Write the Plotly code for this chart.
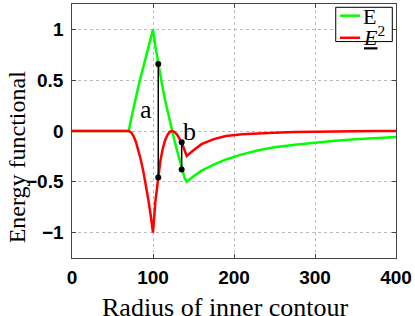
import plotly.graph_objects as go

# radius values (shared by both curves)
radius = [0, 70, 73, 76, 79, 82, 85, 88, 91, 94, 97, 100, 103, 106, 109, 112, 115,
          118, 121, 124, 127, 130, 133, 136, 139, 141.6, 150, 160, 175, 190, 210,
          230, 250, 275, 300, 325, 350, 375, 400]
energy_E = [0, 0, 0.115, 0.23, 0.34, 0.44, 0.535, 0.63, 0.72, 0.815, 0.905, 1.0,
            0.83, 0.685, 0.55, 0.42, 0.3, 0.19, 0.085, -0.015, -0.11, -0.2, -0.29,
            -0.395, -0.46, -0.5, -0.445, -0.39, -0.33, -0.28, -0.23, -0.19, -0.16,
            -0.135, -0.113, -0.095, -0.082, -0.072, -0.06]
energy_E2 = [0, 0, -0.015, -0.05, -0.11, -0.19, -0.285, -0.395, -0.52, -0.665, -0.82,
             -1.0, -0.69, -0.47, -0.30, -0.175, -0.09, -0.036, -0.007, 0.0, -0.012,
             -0.04, -0.075, -0.12, -0.19, -0.245, -0.19, -0.13, -0.08, -0.05, -0.032,
             -0.022, -0.016, -0.011, -0.007, -0.004, -0.002, -0.001, 0.0]

# vertical gap markers
gap_a_x = [106.5, 106.5]
gap_a_y = [0.66, -0.457]
gap_b_x = [135.4, 135.4]
gap_b_y = [-0.11, -0.38]

x_ticks = [0, 100, 200, 300, 400]
y_ticks = [-1, -0.5, 0, 0.5, 1]
y_tick_text = ["\u22121", "\u22120.5", "0", "0.5", "1"]

fig = go.Figure()
fig.add_trace(go.Scatter(x=radius, y=energy_E, mode="lines", name="E",
                         line=dict(color="#00ff00", width=2.5)))
fig.add_trace(go.Scatter(x=radius, y=energy_E2, mode="lines", name="E2",
                         line=dict(color="#ff0000", width=2.5)))
for gx, gy in ((gap_a_x, gap_a_y), (gap_b_x, gap_b_y)):
    fig.add_trace(go.Scatter(x=gx, y=gy, mode="lines+markers",
                             line=dict(color="black", width=1.5),
                             marker=dict(color="black", size=6), showlegend=False))

serif = "Liberation Serif"
tick_font = dict(family="Liberation Sans", size=19, color="black", weight="bold")

fig.add_annotation(x=91.4, y=0.21, text="a", showarrow=False,
                   font=dict(family=serif, size=26, color="black"))
fig.add_annotation(x=145.5, y=0.0, text="b", showarrow=False,
                   font=dict(family=serif, size=26, color="black"))

# y tick labels, right-aligned next to the axis
for tv, tt in zip(y_ticks, y_tick_text):
    fig.add_annotation(xref="paper", yref="y", x=-0.0185, y=tv, text=tt,
                       xanchor="right", yanchor="middle", showarrow=False,
                       font=tick_font)

# axis titles
fig.add_annotation(xref="paper", yref="paper", x=0.475, y=-0.195,
                   xanchor="center", yanchor="middle",
                   text="Radius of inner contour", showarrow=False,
                   font=dict(family=serif, size=26, color="black"))
fig.add_annotation(xref="paper", yref="paper", x=-0.17, y=0.40, textangle=-90,
                   xanchor="center", yanchor="middle",
                   text="Energy functional", showarrow=False,
                   font=dict(family=serif, size=24, color="black"))

# legend box
fig.add_shape(type="rect", xref="paper", yref="paper", x0=0.814, x1=0.9886,
              y0=0.852, y1=0.987, line=dict(color="black", width=1),
              fillcolor="white", layer="above")
fig.add_shape(type="line", xref="paper", yref="paper", x0=0.827, x1=0.889,
              y0=0.954, y1=0.954, line=dict(color="#00ff00", width=2.5), layer="above")
fig.add_shape(type="line", xref="paper", yref="paper", x0=0.827, x1=0.889,
              y0=0.867, y1=0.867, line=dict(color="#ff0000", width=2.5), layer="above")
fig.add_annotation(xref="paper", yref="paper", x=0.893, y=0.952,
                   xanchor="left", yanchor="middle",
                   text="E", showarrow=False,
                   font=dict(family=serif, size=22, color="black"))
fig.add_annotation(xref="paper", yref="paper", x=0.893, y=0.875,
                   xanchor="left", yanchor="middle",
                   text='<span style="text-decoration:underline"><i>E</i></span><sup>2</sup>',
                   showarrow=False, font=dict(family=serif, size=22, color="black"))

axis_common = dict(showline=True, mirror="ticks", linecolor="#444", linewidth=1,
                   ticks="inside", ticklen=4, tickcolor="#444", automargin=False,
                   showgrid=True, gridcolor="#bbbbbb", griddash="dot", gridwidth=1,
                   zeroline=False, tickfont=tick_font)
fig.update_xaxes(range=[0, 400], tickvals=x_ticks, ticklabelstandoff=2, **axis_common)
fig.update_yaxes(range=[-1.25, 1.25], tickvals=y_ticks, showticklabels=False,
                 **axis_common)

fig.update_layout(width=415, height=316, showlegend=False,
                  margin=dict(l=72, r=19, t=4, b=58, autoexpand=False),
                  plot_bgcolor="white", paper_bgcolor="white")
fig.write_html("out.html", config={"displayModeBar": False},
               post_script="document.body.style.margin='0';document.body.style.padding='0';")
